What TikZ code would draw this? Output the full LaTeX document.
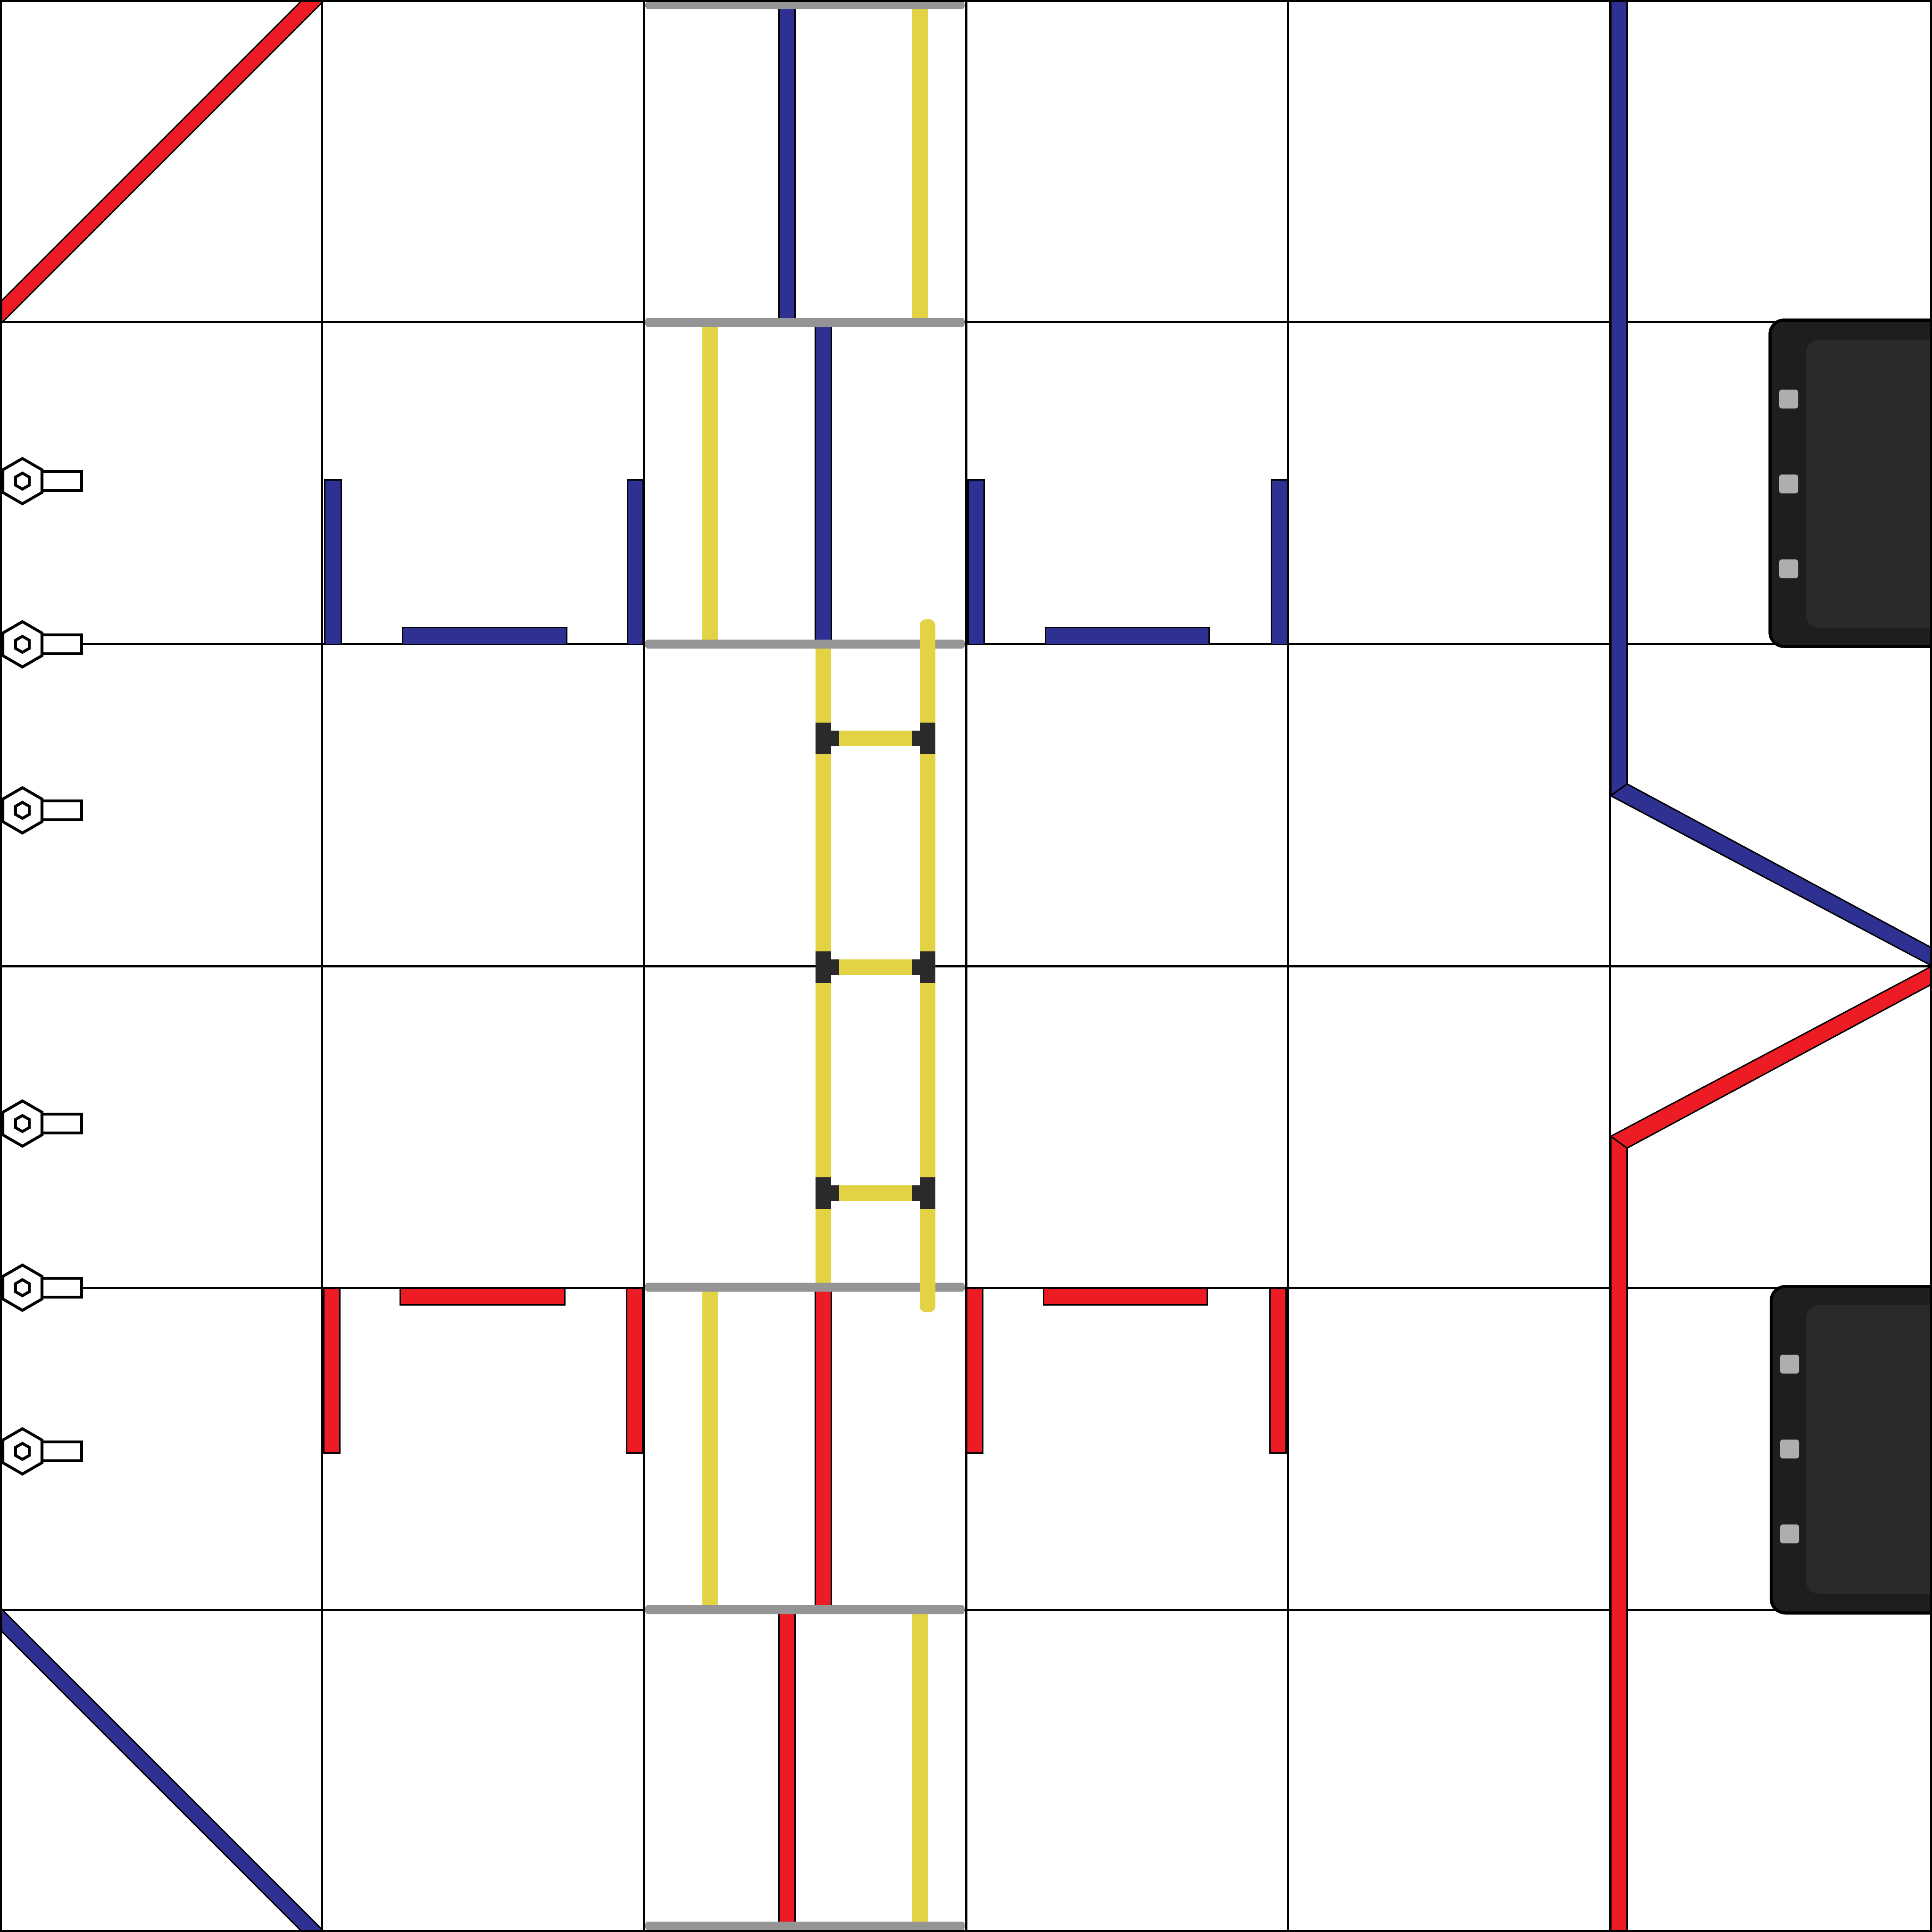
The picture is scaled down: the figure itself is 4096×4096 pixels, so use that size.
\documentclass[tikz,border=0pt]{standalone}
\usepackage{tikz}
\definecolor{bluebar}{HTML}{2E3192}
\definecolor{redbar}{HTML}{ED1C24}
\definecolor{yellowbar}{HTML}{E2D244}
\definecolor{graybar}{HTML}{959595}
\definecolor{hubdark}{HTML}{2A2A2A}
\definecolor{wallouter}{HTML}{1E1E1E}
\definecolor{wallinner}{HTML}{2A2A2A}
\definecolor{wallpin}{HTML}{AEAEAE}

\begin{document}
\begin{tikzpicture} [x=.01cm,y=-.01cm,
		gridline/.style={draw=black,line width=.05cm},
		bluetape/.style={fill=bluebar,draw=black,line width=.03cm,line join=miter},
		redtape/.style={fill=redbar,draw=black,line width=.03cm,line join=miter},
		yellowtape/.style={fill=yellowbar},
		grayrail/.style={fill=graybar,rounded corners=.05cm},
		boltline/.style={draw=black,fill=white,line width=.06cm},
		walloutline/.style={draw=black,fill=wallouter,line width=.065cm,rounded corners=.3cm},
		wallpanel/.style={fill=wallinner,rounded corners=.28cm},
		wallpinbox/.style={fill=wallpin,rounded corners=.05cm}]
		\useasboundingbox (0,0) rectangle (4096,4096);
		\clip (0,0) rectangle (4096,4096);
		\fill[white] (0,0) rectangle (4096,4096);
		
		% Grid
		\foreach \g in {682.67,1365.33,2048,2730.67,3413.33} {
			\draw[gridline] (\g,0) -- (\g,4096);
			\draw[gridline] (0,\g) -- (4096,\g);
		}
		
		% Corner diagonals
		\draw[redtape] (3,685) -- (685,3) -- (685,-20) -- (641,0) -- (3,638) -- cycle; %red corner
		\draw[bluetape] (3,3411) -- (685,4093) -- (685,4116) -- (641,4096) -- (3,3458) -- cycle; %blue corner
		
		% Bars beside upper row
		\draw[bluetape] (688.5,1017.5) rectangle (723,1366); %left cell
		\draw[bluetape] (853.5,1330.5) rectangle (1201.5,1366);
		\draw[bluetape] (1330.5,1017.5) rectangle (1363.5,1366);
		\draw[bluetape] (2052,1017.5) rectangle (2086,1366); %right cell
		\draw[bluetape] (2216,1330.5) rectangle (2563,1366);
		\draw[bluetape] (2695,1017.5) rectangle (2729,1366);
		
		% Bars beside lower row
		\draw[redtape] (686,2731) rectangle (720,3080); %left cell
		\draw[redtape] (848,2731) rectangle (1197,2766);
		\draw[redtape] (1328,2731) rectangle (1362,3080);
		\draw[redtape] (2049.5,2731) rectangle (2083.5,3080); %right cell
		\draw[redtape] (2212,2731) rectangle (2559,2766);
		\draw[redtape] (2692,2731) rectangle (2726,3080);
		
		% Centre column tape
		\draw[bluetape] (1651,0) rectangle (1685.5,683);
		\draw[bluetape] (1728,683) rectangle (1762,1366);
		\draw[redtape] (1728,2730) rectangle (1762,3413);
		\draw[redtape] (1651,3413) rectangle (1685.5,4096);
		\fill[yellowtape] (1934,0) rectangle (1967,683);
		\fill[yellowtape] (1489,683) rectangle (1522,1366);
		\fill[yellowtape] (1489,2730) rectangle (1522,3413);
		\fill[yellowtape] (1934,3413) rectangle (1967,4096);
		\fill[yellowtape] (1729,1366) rectangle (1762,2730); %ladder left
		
		% Gray rails
		\foreach \ya/\yb in {4/19,674/693,1356/1375,2719.5/2738.5,3403/3422,4074/4092} {
			\fill[grayrail] (1368,\ya) rectangle (2045,\yb);
		}
		
		% Ladder
		\fill[yellowtape,rounded corners=.13cm] (1950,1313) rectangle (1983,2782); %ladder right
		\foreach \h in {1565.5,2050.5,2529} {
			\fill[yellowtape] (1779,\h-16.5) rectangle (1933,\h+16.5); %rung
			\fill[hubdark] (1729,\h-33.5) rectangle (1762,\h+33.5);
			\fill[hubdark] (1762,\h-16.5) rectangle (1779,\h+16.5);
			\fill[hubdark] (1950,\h-33.5) rectangle (1983,\h+33.5);
			\fill[hubdark] (1933,\h-16.5) rectangle (1950,\h+16.5);
		}
		
		% Long tape on the right
		\draw[bluetape] (3415,-5) -- (3449.5,-5) -- (3449.5,1662) -- (3415,1687) -- cycle;
		\draw[bluetape] (3415,1687) -- (3449.5,1662) -- (4100,2012) -- (4100,2050) -- cycle;
		\draw[redtape] (3415,4101) -- (3449.5,4101) -- (3449.5,2434) -- (3415,2409) -- cycle;
		\draw[redtape] (3415,2409) -- (3449.5,2434) -- (4100,2084) -- (4100,2046) -- cycle;
		
		% Walls
		\draw[walloutline] (4150,678.5) -- (3752.5,678.5) -- (3752.5,1370.5) -- (4150,1370.5);
		\fill[wallpanel] (3829,720) rectangle (4150,1332);
		\foreach \p in {846,1026,1206} {
			\fill[wallpinbox] (3772,\p-20) rectangle (3812,\p+20);
		}
		\draw[walloutline] (4150,2727.5) -- (3755,2727.5) -- (3755,3419.5) -- (4150,3419.5);
		\fill[wallpanel] (3829,2767) rectangle (4150,3379);
		\foreach \p in {2892,3072,3252} {
			\fill[wallpinbox] (3774,\p-20) rectangle (3814,\p+20);
		}
		
		% Bolts
		\foreach \y in {1020,1366,1718,2382,2730,3077} {
			\draw[boltline] (88,\y-20) rectangle (173,\y+20);
			\draw[boltline,shift={(47.5,\y)}] (0,-48) -- (41.5,-24) -- (41.5,24) -- (0,48) -- (-41.5,24) -- (-41.5,-24) -- cycle;
			\draw[boltline,shift={(47.5,\y)}] (0,-17) -- (14.7,-8.5) -- (14.7,8.5) -- (0,17) -- (-14.7,8.5) -- (-14.7,-8.5) -- cycle;
		}
		
		% Outer border
		\draw[gridline,line width=.04cm] (2,2) rectangle (4094,4094);
		\end{tikzpicture}
\end{document}
